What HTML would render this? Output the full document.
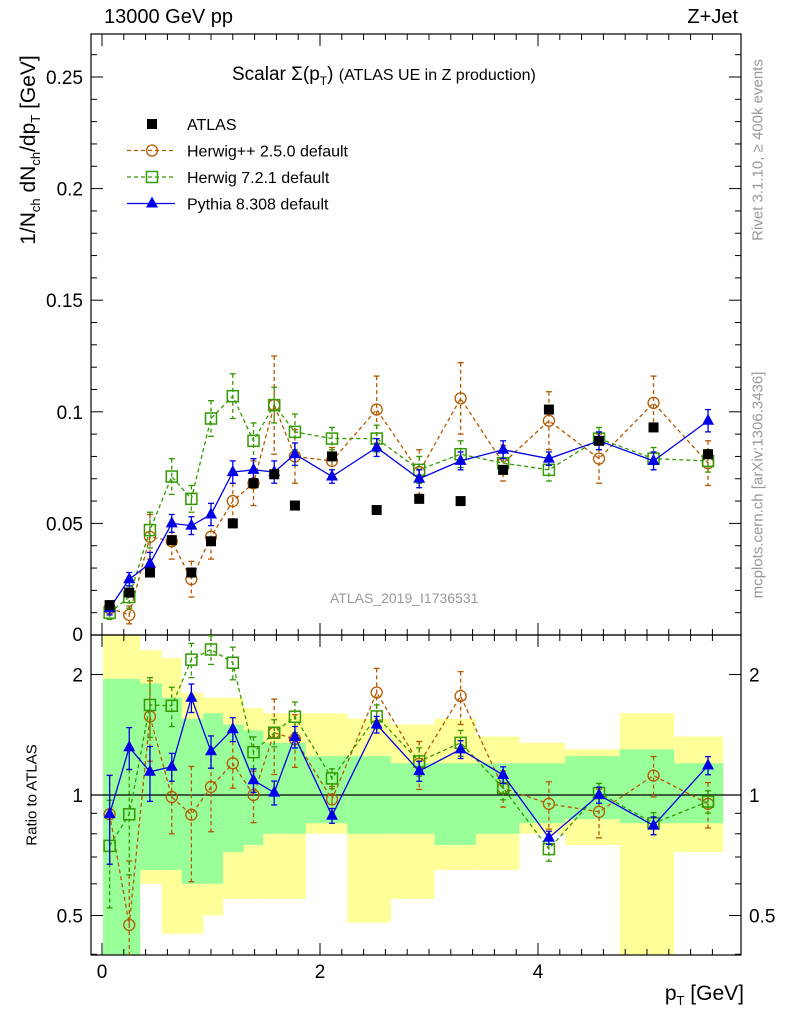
<!DOCTYPE html>
<html><head><meta charset="utf-8"><style>
body{margin:0;background:#fff;font-family:"Liberation Sans",sans-serif}
svg text{font-family:"Liberation Sans",sans-serif}
</style></head><body>
<svg id="c" width="786" height="1024" xmlns="http://www.w3.org/2000/svg"></svg>
<script>
const xCenters=[0.07,0.25,0.44,0.64,0.82,1.0,1.2,1.39,1.58,1.77,2.11,2.52,2.91,3.29,3.68,4.1,4.56,5.06,5.56];
const binEdges=[0.01,0.16,0.35,0.55,0.73,0.93,1.11,1.3,1.48,1.67,1.87,2.25,2.65,3.05,3.43,3.83,4.25,4.75,5.25,5.7];
const atlasVals=[0.0134,0.019,0.028,0.0425,0.028,0.042,0.050,0.068,0.072,0.058,0.080,0.056,0.061,0.060,0.074,0.101,0.087,0.093,0.081];
const herwigPPVals=[0.012,0.009,0.044,0.042,0.025,0.044,0.060,0.068,0.103,0.080,0.078,0.101,0.073,0.106,0.077,0.096,0.079,0.104,0.077];
const herwigPPErr=[0.003,0.004,0.010,0.008,0.008,0.010,0.008,0.010,0.022,0.012,0.006,0.015,0.010,0.016,0.008,0.013,0.011,0.012,0.010];
const herwig7Vals=[0.010,0.017,0.047,0.071,0.061,0.097,0.107,0.087,0.103,0.091,0.088,0.088,0.074,0.081,0.077,0.074,0.088,0.079,0.078];
const herwig7Err=[0.003,0.005,0.008,0.008,0.006,0.008,0.010,0.008,0.008,0.008,0.005,0.006,0.006,0.006,0.005,0.005,0.005,0.005,0.005];
const pythiaVals=[0.012,0.025,0.032,0.050,0.049,0.054,0.073,0.074,0.073,0.081,0.071,0.084,0.070,0.078,0.083,0.079,0.087,0.078,0.096];
const pythiaErr=[0.003,0.003,0.005,0.004,0.004,0.005,0.005,0.005,0.005,0.005,0.003,0.004,0.004,0.004,0.004,0.003,0.004,0.004,0.005];
const greenLo=[0.3,0.3,0.65,0.65,0.6,0.6,0.72,0.75,0.8,0.8,0.85,0.8,0.8,0.75,0.8,0.85,0.87,0.85,0.85];
const greenHi=[1.95,1.95,1.9,1.75,1.55,1.6,1.5,1.45,1.35,1.35,1.25,1.25,1.2,1.2,1.2,1.2,1.25,1.3,1.2];
const yellowLo=[0.3,0.3,0.6,0.45,0.45,0.5,0.55,0.55,0.55,0.55,0.8,0.48,0.55,0.65,0.65,0.8,0.75,0.35,0.72];
const yellowHi=[2.6,2.6,2.3,2.2,1.8,1.75,1.75,1.65,1.6,1.6,1.6,1.55,1.5,1.55,1.4,1.35,1.3,1.6,1.4];
const yTicks=[0.05,0.1,0.15,0.2,0.25];
const xTicks=[0,2,4];
const rTicks=[0.5,1,2];

const svg=document.getElementById('c');const NS='http://www.w3.org/2000/svg';
function el(t,a,p){const e=document.createElementNS(NS,t);for(const k in a)e.setAttribute(k,a[k]);(p||svg).appendChild(e);return e;}
const L=91,R=741,T=34,MB=635,RB=955;
const X=v=>102+v*109;
const Y=v=>635-v*2232;
const YR=v=>795-Math.log2(v)*120.5;
const clip=el('clipPath',{id:'cr'});el('rect',{x:L,y:MB,width:R-L,height:RB-MB},clip);
const clipM=el('clipPath',{id:'cm'});el('rect',{x:L,y:T,width:R-L,height:MB-T},clipM);
const gb=el('g',{'clip-path':'url(#cr)'});
for(let i=0;i<xCenters.length;i++){
 const r=el('rect',{x:X(binEdges[i]),width:X(binEdges[i+1])-X(binEdges[i]),y:YR(yellowHi[i]),height:YR(yellowLo[i])-YR(yellowHi[i]),fill:'#ffff99'},gb);
 
}
for(let i=0;i<xCenters.length;i++){
 const r=el('rect',{x:X(binEdges[i]),width:X(binEdges[i+1])-X(binEdges[i]),y:YR(greenHi[i]),height:YR(greenLo[i])-YR(greenHi[i]),fill:'#99ff99'},gb);
 
}
el('line',{x1:L,x2:R,y1:YR(1),y2:YR(1),stroke:'#000','stroke-width':1.2});
el('rect',{x:L,y:T,width:R-L,height:MB-T,fill:'none',stroke:'#000','stroke-width':1.2});
el('rect',{x:L,y:MB,width:R-L,height:RB-MB,fill:'none',stroke:'#000','stroke-width':1.2});
for(let v=0;v<=0.27;v+=0.01){const y=Y(v);if(y<T)break;const big=Math.abs(v/0.05-Math.round(v/0.05))<1e-6;const w=big?12:6;
 el('line',{x1:L,x2:L+w,y1:y,y2:y,stroke:'#000'});el('line',{x1:R,x2:R-w,y1:y,y2:y,stroke:'#000'});}
yTicks.forEach(v=>{const t=el('text',{x:L-8,y:Y(v)+7,'text-anchor':'end','font-size':19});t.textContent=String(v);});
{const t=el('text',{x:L-8,y:641,'text-anchor':'end','font-size':19});t.textContent='0';}
[0.4,0.5,0.6,0.7,0.8,0.9,1,2].forEach(v=>{const y=YR(v);const big=(v==0.5||v==1||v==2);const w=big?12:6;
 el('line',{x1:L,x2:L+w,y1:y,y2:y,stroke:'#000'});el('line',{x1:R,x2:R-w,y1:y,y2:y,stroke:'#000'});});
rTicks.forEach(v=>{const s=v==0.5?'0.5':String(v);
 let t=el('text',{x:L-8,y:YR(v)+7,'text-anchor':'end','font-size':19});t.textContent=s;
 t=el('text',{x:R+8,y:YR(v)+7,'font-size':19});t.textContent=s;});
for(let v=0;v<=5.8;v+=0.2){const x=X(v);if(x>R)break;const big=Math.abs(v/2-Math.round(v/2))<1e-6;const h=big?12:6;
 el('line',{x1:x,x2:x,y1:T,y2:T+h,stroke:'#000'});el('line',{x1:x,x2:x,y1:MB,y2:MB-h,stroke:'#000'});
 el('line',{x1:x,x2:x,y1:MB,y2:MB+h,stroke:'#000'});el('line',{x1:x,x2:x,y1:RB,y2:RB-h,stroke:'#000'});}
xTicks.forEach(v=>{const t=el('text',{x:X(v),y:978,'text-anchor':'middle','font-size':19});t.textContent=String(v);});
function marker(g,m,x,y,color){
 if(m=='c')return el('circle',{cx:x,cy:y,r:5.5,fill:'none',stroke:color,'stroke-width':1.3},g);
 if(m=='s')return el('rect',{x:x-5.5,y:y-5.5,width:11,height:11,fill:'none',stroke:color,'stroke-width':1.5},g);
 return el('path',{d:`M${x},${y-7}L${x+6},${y+4}L${x-6},${y+4}Z`,fill:color},g);
}
function series(vals,err,color,dash,mk,name,ratio){
 const g=el('g',{'clip-path':ratio?'url(#cr)':'url(#cm)'});
 const yf=i=>ratio?YR(vals[i]/atlasVals[i]):Y(vals[i]);
 const ye=(i,s)=>ratio?YR((vals[i]+s*err[i])/atlasVals[i]):Y(vals[i]+s*err[i]);
 let d='';vals.forEach((v,i)=>{d+=(i?'L':'M')+X(xCenters[i])+','+yf(i);});
 el('path',{d,fill:'none',stroke:color,'stroke-width':1.3,'stroke-dasharray':dash},g);
 vals.forEach((v,i)=>{const x=X(xCenters[i]);
  el('line',{x1:x,x2:x,y1:ye(i,1),y2:ye(i,-1),stroke:color,'stroke-width':1.3,'stroke-dasharray':dash},g);
  el('line',{x1:x-3,x2:x+3,y1:ye(i,1),y2:ye(i,1),stroke:color,'stroke-width':1.3},g);
  el('line',{x1:x-3,x2:x+3,y1:ye(i,-1),y2:ye(i,-1),stroke:color,'stroke-width':1.3},g);
  const m=marker(g,mk,x,yf(i),color);
  });
}
series(herwigPPVals,herwigPPErr,'#b35900','4,3','c','herwigpp-series',false);
series(herwig7Vals,herwig7Err,'#339900','4,3','s','herwig7-series',false);
series(pythiaVals,pythiaErr,'#0000e6','','t','pythia-series',false);
atlasVals.forEach((v,i)=>{const r=el('rect',{x:X(xCenters[i])-5,y:Y(v)-5,width:10,height:10,fill:'#000'});});
series(herwigPPVals,herwigPPErr,'#b35900','4,3','c','herwigpp-ratio',true);
series(herwig7Vals,herwig7Err,'#339900','4,3','s','herwig7-ratio',true);
series(pythiaVals,pythiaErr,'#0000e6','','t','pythia-ratio',true);
// legend
const leg=el('g',{});
const legNames=['ATLAS','Herwig++ 2.5.0 default','Herwig 7.2.1 default','Pythia 8.308 default'];
const legCols=['#000','#b35900','#339900','#0000e6'];const legMk=['a','c','s','t'];const legDash=['','4,3','4,3',''];
legNames.forEach((n,i)=>{const y=124+i*26.5;const g=el('g',{},leg);
 if(i>0)el('line',{x1:127,x2:175,y1:y,y2:y,stroke:legCols[i],'stroke-width':1.3,'stroke-dasharray':legDash[i]},g);
 if(i==0)el('rect',{x:147,y:y-5,width:10,height:10,fill:'#000'},g);else marker(g,legMk[i],152,y,legCols[i]);
 const t=el('text',{x:187,y:y+6,'font-size':16},g);t.textContent=n;});
</script>
<div style="position:absolute;left:0;top:0;width:786px;height:1024px;pointer-events:none">
<div style="position:absolute;left:104px;top:6px;font-size:20px">13000 GeV pp</div>
<div style="position:absolute;right:48px;top:6px;font-size:20px">Z+Jet</div>
<div style="position:absolute;left:232px;top:64px;font-size:19px">Scalar Σ(p<sub style="font-size:12px">T</sub>) <span style="font-size:16px">(ATLAS UE in Z production)</span></div>
<div style="position:absolute;left:330px;top:590px;font-size:14px;color:#999">ATLAS_2019_I1736531</div>
<div style="position:absolute;left:30px;top:150px;font-size:21px;transform:translate(-50%,-50%) rotate(-90deg);white-space:nowrap">1/N<sub style="font-size:13px">ch</sub> dN<sub style="font-size:13px">ch</sub>/dp<sub style="font-size:13px">T</sub> [GeV]</div>
<div style="position:absolute;left:32px;top:795px;font-size:15px;transform:translate(-50%,-50%) rotate(-90deg);white-space:nowrap">Ratio to ATLAS</div>
<div style="position:absolute;right:42px;top:982px;font-size:21px">p<sub style="font-size:13px">T</sub> [GeV]</div>
<div style="position:absolute;left:758px;top:150px;font-size:15px;color:#999;transform:translate(-50%,-50%) rotate(-90deg);white-space:nowrap">Rivet 3.1.10, ≥ 400k events</div>
<div style="position:absolute;left:758px;top:485px;font-size:15px;color:#999;transform:translate(-50%,-50%) rotate(-90deg);white-space:nowrap">mcplots.cern.ch [arXiv:1306.3436]</div>
</div>
</body></html>
